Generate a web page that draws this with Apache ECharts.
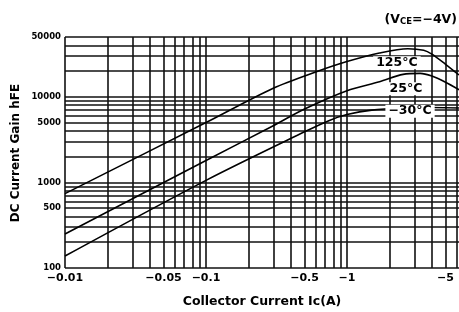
<!DOCTYPE html>
<html>
<head>
<meta charset="utf-8">
<script src="https://cdn.jsdelivr.net/npm/echarts@6/dist/echarts.min.js"></script>
<style>
  html, body { margin: 0; padding: 0; background: #fff; }
  #chart { width: 459px; height: 312px; }
</style>
</head>
<body>
<div id="chart"></div>
<script>
// collector current magnitude (A), shown as negative on the axis
// the reference is cut off at the right edge, a little past -6 A
const xMax = 6.23;
const xGrid = [0.01, 0.02, 0.03, 0.04, 0.05, 0.06, 0.07, 0.08, 0.09,
  0.1, 0.2, 0.3, 0.4, 0.5, 0.6, 0.7, 0.8, 0.9,
  1, 2, 3, 4, 5, 6];
const xTicks = [0.01, 0.05, 0.1, 0.5, 1, 5];
const yGrid = [100, 200, 300, 400, 500, 600, 700, 800, 900,
  1000, 2000, 3000, 4000, 5000, 6000, 7000, 8000, 9000,
  10000, 20000, 30000, 40000, 50000];
const yTicks = [100, 500, 1000, 5000, 10000, 50000];

// hFE
const curve125 = [[0.01, 740], [0.1, 5000], [0.3, 12600], [0.6, 19500],
  [1, 25800], [1.7, 32500], [2.7, 36500], [3.5, 35000], [4, 31500], [5, 24000], [6.23, 18000]];
const curve25 = [[0.01, 250], [0.1, 1800], [0.3, 4600], [0.5, 7200],
  [1, 11800], [1.7, 15000], [2.5, 18300], [3.3, 18800], [4, 17500], [5, 14800], [6.23, 12100]];
const curveM30 = [[0.01, 138], [0.1, 1057], [0.5, 3900], [0.75, 5300], [1, 6200],
  [1.5, 7000], [2.5, 7400], [4, 7500], [6.23, 7400]];

const labels = [
  { name: '125°C', coord: [2.26, 25000] },
  { name: '25°C', coord: [2.62, 12400] },
  { name: '−30°C', coord: [2.8, 6800] }
];

const font = '"DejaVu Sans", Verdana, sans-serif';
const gridColor = '#111';

const chart = echarts.init(document.getElementById('chart'));

function curveSeries(data, extra) {
  return Object.assign({
    type: 'line',
    data: data,
    smooth: 0.3,
    showSymbol: false,
    silent: true,
    lineStyle: { color: '#000', width: 1.6 },
    z: 5
  }, extra || {});
}

const option = {
  animation: false,
  grid: { left: 65, right: 0, top: 37, bottom: 44 },
  xAxis: {
    type: 'log',
    min: 0.01,
    max: xMax,
    axisLine: { show: false },
    axisTick: { show: false },
    axisLabel: { show: false },
    splitLine: { show: false }
  },
  yAxis: {
    type: 'log',
    min: 100,
    max: 50000,
    axisLine: { show: false },
    axisTick: { show: false },
    axisLabel: { show: false },
    splitLine: { show: false }
  },
  series: [
    curveSeries(curve125, {
      markLine: {
        silent: true,
        symbol: ['none', 'none'],
        lineStyle: { color: gridColor, width: 1.6, type: 'solid' },
        data: xGrid.map(v => ({
          xAxis: v,
          label: {
            show: xTicks.includes(v),
            position: 'start',
            distance: 5,
            formatter: '−' + v,
            color: '#000',
            fontFamily: font,
            fontWeight: 'bold',
            fontSize: 11
          }
        })).concat(yGrid.map(v => ({
          yAxis: v,
          label: {
            show: yTicks.includes(v),
            position: 'start',
            distance: 4,
            formatter: String(v),
            color: '#000',
            fontFamily: font,
            fontWeight: 'bold',
            fontSize: 8.5
          }
        })))
      }
    }),
    curveSeries(curve25),
    curveSeries(curveM30, {
      markPoint: {
        silent: true,
        symbol: 'rect',
        symbolSize: 0,
        z: 10,
        label: {
          show: true,
          position: 'inside',
          formatter: p => p.name,
          color: '#000',
          fontFamily: font,
          fontWeight: 'bold',
          fontSize: 12.5,
          backgroundColor: '#fff',
          padding: [0, 3]
        },
        data: labels
      }
    })
  ],
  graphic: [
    {
      type: 'text',
      x: 262,
      y: 302,
      style: {
        text: 'Collector Current Ic(A)',
        fontFamily: font,
        fontWeight: 'bold',
        fontSize: 12.5,
        fill: '#000',
        align: 'center',
        verticalAlign: 'middle'
      }
    },
    {
      type: 'text',
      x: 16,
      y: 153,
      rotation: Math.PI / 2,
      style: {
        text: 'DC Current Gain hFE',
        fontFamily: font,
        fontWeight: 'bold',
        fontSize: 12,
        fill: '#000',
        align: 'center',
        verticalAlign: 'middle'
      }
    },
    {
      type: 'text',
      x: 457,
      y: 20,
      style: {
        text: '(V{s|CE}=−4V)',
        fontFamily: font,
        fontWeight: 'bold',
        fontSize: 12.5,
        fill: '#000',
        align: 'right',
        verticalAlign: 'middle',
        rich: {
          s: { fontSize: 8.5, fontWeight: 'bold', fontFamily: font, padding: [4, 0, 0, 0] }
        }
      }
    }
  ]
};

chart.setOption(option);
</script>
</body>
</html>
